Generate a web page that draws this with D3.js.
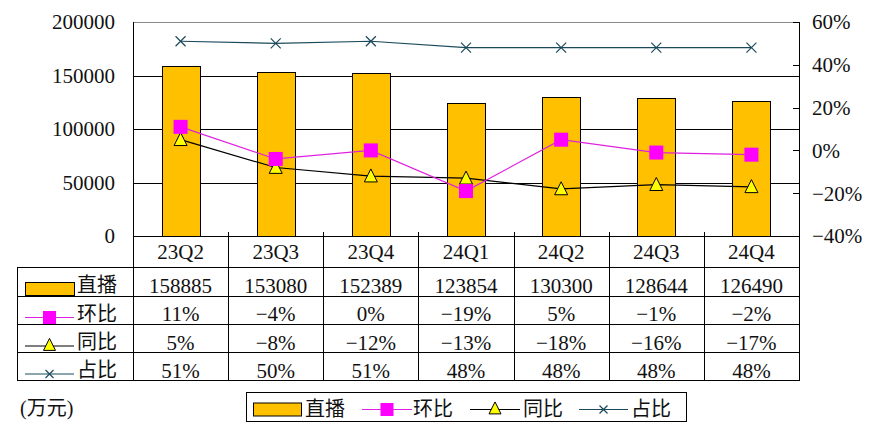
<!DOCTYPE html>
<html>
<head>
<meta charset="utf-8">
<script src="https://cdn.jsdelivr.net/npm/d3@7"></script>
<style>
  html, body { margin: 0; padding: 0; background: #fff; }
  svg text { font-family: "Liberation Serif", "Noto Sans CJK SC", serif; fill: #111; }
</style>
</head>
<body>
<svg id="chart" width="869" height="438"></svg>
<script>
const categories = ["23Q2", "23Q3", "23Q4", "24Q1", "24Q2", "24Q3", "24Q4"];
const liveValues = [158885, 153080, 152389, 123854, 130300, 128644, 126490];
const qoqValues = [11, -4, 0, -19, 5, -1, -2];
const yoyValues = [5, -8, -12, -13, -18, -16, -17];
const shareValues = [51, 50, 51, 48, 48, 48, 48];
const leftTicks = [0, 50000, 100000, 150000, 200000];
const rightTicks = [-40, -20, 0, 20, 40, 60];
const seriesNames = ["直播", "环比", "同比", "占比"];
const unitLabel = "(万元)";

const C = { bar: "#FFC000", qoq: "#E020E0", qoqMarker: "#FF00FF", yoy: "#000", yoyMarker: "#FFFF00", share: "#1b4a5c" };
const pct = v => (v < 0 ? "\u2212" + Math.abs(v) : String(v)) + "%";

const svg = d3.select("#chart");
const L = 133, R = 799, T = 22, B = 236;
const x = d3.scaleBand().domain(categories).range([L, R]);
const yL = d3.scaleLinear().domain([0, 200000]).range([B, T]);
const yR = d3.scaleLinear().domain([-40, 60]).range([B, T]);
const cx = d => x(d) + x.bandwidth() / 2;

// gridlines
svg.append("g").selectAll("line").data(leftTicks.filter(t => t > 0 && t < 200000)).join("line")
  .attr("x1", L).attr("x2", R).attr("y1", d => Math.round(yL(d)) + 0.5).attr("y2", d => Math.round(yL(d)) + 0.5)
  .attr("stroke", "#000").attr("stroke-width", 1);
svg.append("line").attr("x1", L).attr("x2", R).attr("y1", T + 0.5).attr("y2", T + 0.5).attr("stroke", "#888");

// bars
const bw = 38;
svg.append("g").selectAll("rect").data(categories).join("rect")
  .attr("x", (d) => Math.round(cx(d) - bw / 2) + 0.5)
  .attr("y", (d, i) => Math.round(yL(liveValues[i])) + 0.5)
  .attr("width", bw)
  .attr("height", (d, i) => B - Math.round(yL(liveValues[i])))
  .attr("fill", C.bar).attr("stroke", "#000").attr("stroke-width", 1);

// axes lines
svg.append("line").attr("x1", L + 0.5).attr("x2", L + 0.5).attr("y1", T).attr("y2", B).attr("stroke", "#000");
svg.append("line").attr("x1", R + 0.5).attr("x2", R + 0.5).attr("y1", T).attr("y2", 380).attr("stroke", "#000");
svg.append("line").attr("x1", L).attr("x2", R).attr("y1", B + 0.5).attr("y2", B + 0.5).attr("stroke", "#000");

// left axis labels
svg.append("g").selectAll("text").data(leftTicks).join("text")
  .attr("x", 115).attr("y", d => yL(d)).attr("dy", "0.35em").attr("text-anchor", "end")
  .attr("font-size", 21).text(d => d);
// right axis ticks & labels
svg.append("g").selectAll("line").data(rightTicks).join("line")
  .attr("x1", R - 6).attr("x2", R).attr("y1", d => Math.round(yR(d)) + 0.5).attr("y2", d => Math.round(yR(d)) + 0.5)
  .attr("stroke", "#000");
svg.append("g").selectAll("text").data(rightTicks).join("text")
  .attr("x", 812).attr("y", d => yR(d)).attr("dy", "0.35em").attr("text-anchor", "start")
  .attr("font-size", 21).text(d => pct(d));

// x tick marks
const bounds = categories.map(d => x(d)).concat([R]);
svg.append("g").selectAll("line").data(bounds.slice(1, -1)).join("line")
  .attr("x1", d => Math.round(d) + 0.5).attr("x2", d => Math.round(d) + 0.5).attr("y1", B - 4).attr("y2", B)
  .attr("stroke", "#000");

// lines
function series(vals, color, key) {
  const line = d3.line().x((d, i) => cx(categories[i])).y(d => yR(d));
  svg.append("path").datum(vals).attr("d", line).attr("fill", "none").attr("stroke", color).attr("stroke-width", 1.2);
}
series(shareValues, C.share);
svg.append("g").selectAll("path").data(shareValues).join("path")
  .attr("d", (d, i) => { const px = cx(categories[i]), py = yR(d), s = 5; return `M${px - s},${py - s}L${px + s},${py + s}M${px - s},${py + s}L${px + s},${py - s}`; })
  .attr("stroke", C.share).attr("stroke-width", 1.2).attr("fill", "none");
series(yoyValues, C.yoy);
const tri = (px, py, s) => `M${px},${py - s * 0.55}L${px + s / 2},${py + s * 0.45}L${px - s / 2},${py + s * 0.45}Z`;
svg.append("g").selectAll("path").data(yoyValues).join("path")
  .attr("d", (d, i) => tri(cx(categories[i]), yR(d), 13))
  .attr("fill", C.yoyMarker).attr("stroke", "#000").attr("stroke-width", 1);
series(qoqValues, C.qoq);
svg.append("g").selectAll("rect").data(qoqValues).join("rect")
  .attr("x", (d, i) => cx(categories[i]) - 7).attr("y", d => yR(d) - 7).attr("width", 14).attr("height", 14)
  .attr("fill", C.qoqMarker);

// table
const rowsY = [236, 267, 295.5, 324, 352, 380];
svg.append("g").selectAll("text").data(categories).join("text")
  .attr("x", d => cx(d)).attr("y", 252).attr("dy", "0.35em").attr("text-anchor", "middle")
  .attr("font-size", 21).text(d => d);
const tg = svg.append("g").attr("stroke", "#000").attr("stroke-width", 1);
rowsY.slice(1).forEach(y => tg.append("line").attr("x1", 17).attr("x2", R + 1).attr("y1", Math.round(y) + 0.5).attr("y2", Math.round(y) + 0.5));
tg.append("line").attr("x1", 17.5).attr("x2", 17.5).attr("y1", 267).attr("y2", 381);
bounds.forEach((b, i) => {
  tg.append("line").attr("x1", Math.round(b) + 0.5).attr("x2", Math.round(b) + 0.5)
    .attr("y1", i === 0 ? 236 : 236).attr("y2", 380);
});

const tableRows = [
  liveValues.map(String),
  qoqValues.map(pct),
  yoyValues.map(pct),
  shareValues.map(pct)
];
tableRows.forEach((row, r) => {
  const top = rowsY[r + 1];
  svg.append("g").selectAll("text").data(row).join("text")
    .attr("x", (d, i) => cx(categories[i])).attr("y", top + 18.5).attr("dy", "0.35em")
    .attr("text-anchor", "middle").attr("font-size", 21).text(d => d);
  svg.append("text").attr("x", 77).attr("y", top + 18).attr("dy", "0.35em")
    .attr("font-size", 20).text(seriesNames[r]);
});

// legend key drawer
function key(g, idx, x0, x1, yc) {
  const mid = (x0 + x1) / 2;
  if (idx === 0) {
    g.append("rect").attr("x", x0 + 0.5).attr("y", yc - 6.5).attr("width", x1 - x0).attr("height", 13)
      .attr("fill", C.bar).attr("stroke", "#000");
    return;
  }
  const color = [null, C.qoq, C.yoy, C.share][idx];
  g.append("line").attr("x1", x0).attr("x2", x1).attr("y1", yc).attr("y2", yc).attr("stroke", color).attr("stroke-width", 1.2);
  if (idx === 1) g.append("rect").attr("x", mid - 6.5).attr("y", yc - 6.5).attr("width", 13).attr("height", 13).attr("fill", C.qoqMarker);
  if (idx === 2) g.append("path").attr("d", tri(mid, yc - 1, 12)).attr("fill", C.yoyMarker).attr("stroke", "#000");
  if (idx === 3) g.append("path").attr("d", `M${mid - 4},${yc - 4}L${mid + 4},${yc + 4}M${mid - 4},${yc + 4}L${mid + 4},${yc - 4}`).attr("stroke", C.share).attr("stroke-width", 1.2);
}
// in-table keys
const tk = svg.append("g");
key(tk, 0, 25, 74, 289);
key(tk, 1, 25, 74, 317.5);
key(tk, 2, 25, 74, 346);
key(tk, 3, 25, 74, 374);

// bottom legend
const lg = svg.append("g");
lg.append("rect").attr("x", 246.5).attr("y", 392.5).attr("width", 440).attr("height", 29).attr("fill", "#fff").attr("stroke", "#000");
const legendItems = [[253, 301, 305], [362, 412, 413], [470, 520, 523], [579, 628, 631]];
legendItems.forEach(([a, b, t], i) => {
  key(lg, i, a, b, 409.5);
  lg.append("text").attr("x", t).attr("y", 409).attr("dy", "0.35em").attr("font-size", 20).text(seriesNames[i]);
});

svg.append("text").attr("x", 20).attr("y", 408).attr("dy", "0.35em").attr("font-size", 20).text(unitLabel);
</script>
</body>
</html>
